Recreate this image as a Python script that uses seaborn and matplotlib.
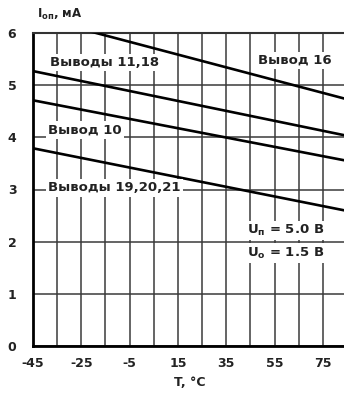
import matplotlib
matplotlib.use("Agg")
import matplotlib.pyplot as plt
import seaborn as sns
import pandas as pd

# Data (line endpoints)
temps = [-45, 85]
pin16 = [6.32, 4.73]
pins_11_18 = [5.27, 4.03]
pin10 = [4.71, 3.55]
pins_19_20_21 = [3.79, 2.59]
series_names = ["Вывод 16", "Выводы 11,18", "Вывод 10", "Выводы 19,20,21"]
x_ticks = [-45, -25, -5, 15, 35, 55, 75]
y_ticks = [0, 1, 2, 3, 4, 5, 6]

rows = []
for name, vals in zip(series_names, [pin16, pins_11_18, pin10, pins_19_20_21]):
    for t, v in zip(temps, vals):
        rows.append({"T": t, "I": v, "s": name})
df = pd.DataFrame(rows)

sns.set_style("white")
plt.rcParams["font.family"] = ["DejaVu Sans"]
plt.rcParams["mathtext.fontset"] = "dejavusans"
plt.rcParams["axes.unicode_minus"] = False

fig = plt.figure(figsize=(3.44, 3.96), dpi=100)
ax = fig.add_axes([33 / 344, 50 / 396, (347 - 33) / 344, (346 - 33) / 396])

sns.lineplot(data=df, x="T", y="I", hue="s", palette=["black"] * 4,
             legend=False, ax=ax, linewidth=1.9, zorder=3)

ax.set_xlim(-45, 85)
ax.set_ylim(0, 6)
ax.set_xticks(x_ticks)
ax.set_xticks(range(-35, 86, 10), minor=True)
ax.set_yticks(y_ticks)
ax.grid(True, which="both", color="#3a3a3a", linewidth=1.1, zorder=1)
ax.tick_params(axis="x", which="both", length=0, labelsize=9, pad=8)
ax.tick_params(axis="y", which="both", length=0, labelsize=9, pad=12)
for lab in ax.get_xticklabels() + ax.get_yticklabels():
    lab.set_color("#222222")
    lab.set_fontweight("bold")
ax.set_xlabel("T, °C", fontsize=9, fontweight="bold", labelpad=4, color="#222222")
ax.set_ylabel("")
for side in ["left", "bottom"]:
    ax.spines[side].set_linewidth(2.0)
    ax.spines[side].set_color("black")
ax.spines["top"].set_linewidth(1.5)
ax.spines["top"].set_color("#333333")
ax.spines["right"].set_visible(False)

fig.text(37 / 344, 1 - 14 / 396, "I$_{\\mathbf{оп}}$, мА", fontsize=8.5,
         fontweight="bold", va="center", ha="left", color="#222222")

bbox = dict(facecolor="white", edgecolor="none", pad=1.5)
kw = dict(fontsize=9.5, fontweight="bold", color="#222222", va="center",
          bbox=bbox, zorder=4)
ax.text(-38.0, 5.44, "Выводы 11,18", ha="left", **kw)
ax.text(48.2, 5.48, "Вывод 16", ha="left", **kw)
ax.text(-38.8, 4.14, "Вывод 10", ha="left", **kw)
ax.text(-38.8, 3.03, "Выводы 19,20,21", ha="left", **kw)
ax.text(43.6, 2.22, "U$_{\\mathbf{п}}$ = 5.0 В", ha="left", **kw)
ax.text(43.6, 1.78, "U$_{\\mathbf{о}}$ = 1.5 В", ha="left", **kw)

fig.savefig("out.png", dpi=100)
